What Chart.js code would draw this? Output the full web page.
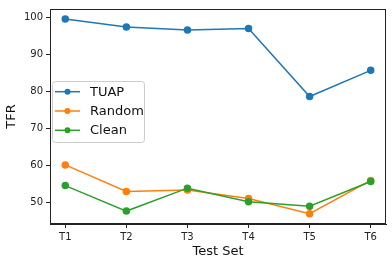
<!DOCTYPE html>
<html>
<head>
<meta charset="utf-8">
<script src="https://cdn.jsdelivr.net/npm/chart.js@4"></script>
<style>
  html, body { margin: 0; padding: 0; background: #fff; }
  #wrap { width: 392px; height: 265px; }
</style>
</head>
<body>
<div id="wrap"><canvas id="tfrChart" width="392" height="265"></canvas></div>
<script>
const testSets = ["T1", "T2", "T3", "T4", "T5", "T6"];
const tuap = [99.6, 97.4, 96.6, 97.0, 78.6, 85.7];
const random = [60.1, 52.9, 53.3, 51.0, 46.9, 55.9];
const clean = [54.5, 47.6, 53.8, 50.1, 48.9, 55.6];
const yTicks = [50, 60, 70, 80, 90, 100];

const FONT = "'DejaVu Sans', sans-serif";

function toPoints(values) {
  return values.map((v, i) => ({ x: i + 1, y: v }));
}

function series(label, values, color, order) {
  return {
    label: label,
    data: toPoints(values),
    borderColor: color,
    backgroundColor: color,
    pointBackgroundColor: color,
    pointBorderColor: color,
    borderWidth: 1.5,
    pointRadius: 3,
    pointHoverRadius: 3,
    tension: 0,
    order: order
  };
}

// cadre complet + légende dans la zone du graphique
const framePlugin = {
  id: "frame",
  afterDraw(chart) {
    const { ctx, chartArea: a } = chart;
    ctx.save();
    ctx.strokeStyle = "#222";
    ctx.lineWidth = 1;
    ctx.strokeRect(a.left + 0.5, a.top + 0.5, a.right - a.left - 1, a.bottom - a.top - 1);

    // légende
    const x0 = a.left + 2.5, y0 = 81.5, w = 92, h = 61, r = 3;
    ctx.beginPath();
    ctx.roundRect(x0, y0, w, h, r);
    ctx.fillStyle = "rgba(255,255,255,0.8)";
    ctx.fill();
    ctx.strokeStyle = "#cccccc";
    ctx.stroke();

    const rows = [91.7, 111, 130.3];
    const sets = chart.data.datasets;
    ctx.font = "13px " + FONT;
    ctx.textBaseline = "middle";
    sets.forEach((ds, i) => {
      const y = rows[i];
      ctx.strokeStyle = ds.borderColor;
      ctx.lineWidth = 1.5;
      ctx.beginPath();
      ctx.moveTo(a.left + 5, y);
      ctx.lineTo(a.left + 30, y);
      ctx.stroke();
      ctx.beginPath();
      ctx.arc(a.left + 17.5, y, 3, 0, Math.PI * 2);
      ctx.fillStyle = ds.borderColor;
      ctx.fill();
      ctx.fillStyle = "#111";
      ctx.fillText(ds.label, a.left + 40, y + 0.5);
    });
    ctx.restore();
  }
};

const ctx = document.getElementById("tfrChart").getContext("2d");
new Chart(ctx, {
  type: "line",
  data: {
    datasets: [
      series("TUAP", tuap, "#1f77b4", 3),
      series("Random", random, "#ff7f0e", 2),
      series("Clean", clean, "#2ca02c", 1)
    ]
  },
  options: {
    responsive: false,
    animation: false,
    layout: { padding: { left: 0, top: 6, right: 6, bottom: 0 } },
    plugins: {
      legend: { display: false },
      tooltip: { enabled: false }
    },
    scales: {
      x: {
        type: "linear",
        min: 0.75,
        max: 6.25,
        afterBuildTicks: scale => {
          scale.ticks = testSets.map((_, i) => ({ value: i + 1 }));
        },
        afterFit: scale => { scale.height = 41; },
        ticks: {
          color: "#222",
          font: { family: FONT, size: 10 },
          padding: 3,
          maxRotation: 0,
          callback: v => testSets[v - 1]
        },
        grid: {
          drawOnChartArea: false,
          tickLength: 4,
          tickColor: "#222"
        },
        border: { color: "#222" },
        title: {
          display: true,
          text: "Test Set",
          color: "#111",
          font: { family: FONT, size: 13 },
          padding: { top: 2, bottom: 6 }
        }
      },
      y: {
        min: 44.1,
        max: 102.3,
        afterBuildTicks: scale => {
          scale.ticks = yTicks.map(v => ({ value: v }));
        },
        afterFit: scale => { scale.width = 50; },
        ticks: {
          color: "#222",
          font: { family: FONT, size: 10 },
          padding: 3
        },
        grid: {
          drawOnChartArea: false,
          tickLength: 4,
          tickColor: "#222"
        },
        border: { color: "#222" },
        title: {
          display: true,
          text: "TFR",
          color: "#111",
          font: { family: FONT, size: 13 },
          padding: { top: 4, bottom: 0 }
        }
      }
    }
  },
  plugins: [framePlugin]
});
</script>
</body>
</html>
